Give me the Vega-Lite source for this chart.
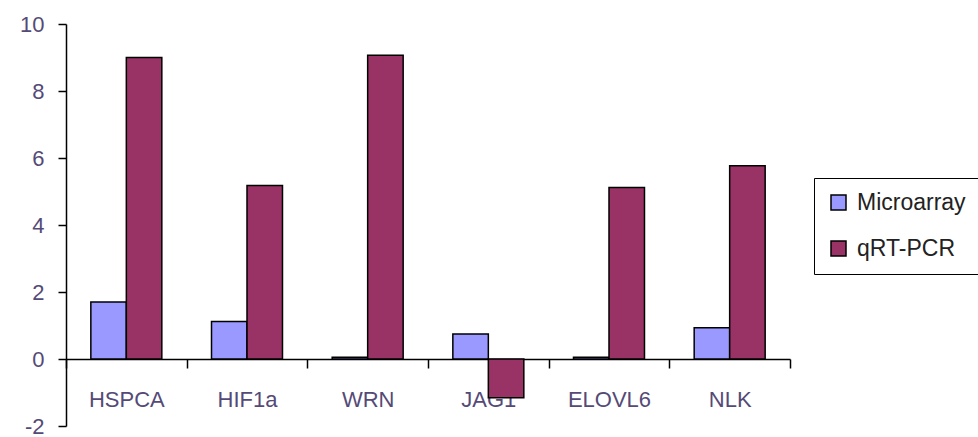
{
  "$schema": "https://vega.github.io/schema/vega-lite/v6.json",
  "width": 724,
  "height": 402,
  "autosize": {"type": "none"},
  "padding": {"left": 66, "top": 24, "right": 188, "bottom": 11},
  "background": "white",
  "config": {"view": {"stroke": null}, "font": "Liberation Sans"},
  "data": {
    "values": [
      {"gene": "HSPCA", "method": "Microarray", "value": 1.7},
      {"gene": "HSPCA", "method": "qRT-PCR", "value": 9.0},
      {"gene": "HIF1a", "method": "Microarray", "value": 1.12},
      {"gene": "HIF1a", "method": "qRT-PCR", "value": 5.18},
      {"gene": "WRN", "method": "Microarray", "value": 0.05},
      {"gene": "WRN", "method": "qRT-PCR", "value": 9.07},
      {"gene": "JAG1", "method": "Microarray", "value": 0.75},
      {"gene": "JAG1", "method": "qRT-PCR", "value": -1.16},
      {"gene": "ELOVL6", "method": "Microarray", "value": 0.05},
      {"gene": "ELOVL6", "method": "qRT-PCR", "value": 5.12},
      {"gene": "NLK", "method": "Microarray", "value": 0.93},
      {"gene": "NLK", "method": "qRT-PCR", "value": 5.77}
    ]
  },
  "mark": {"type": "bar", "stroke": "black", "strokeWidth": 1.5},
  "encoding": {
    "x": {
      "field": "gene",
      "type": "nominal",
      "sort": null,
      "scale": {"paddingInner": 0, "paddingOuter": 0},
      "axis": {
        "title": null,
        "orient": "bottom",
        "offset": -67,
        "domainColor": "black",
        "domainWidth": 1.5,
        "tickColor": "black",
        "tickWidth": 1.5,
        "tickSize": 9,
        "tickBand": "extent",
        "labelAngle": 0,
        "labelPadding": 21,
        "labelFontSize": 22,
        "labelColor": "#554a77",
        "labelFont": "Liberation Sans"
      }
    },
    "xOffset": {
      "field": "method",
      "type": "nominal",
      "scale": {"paddingInner": 0, "paddingOuter": 0.7}
    },
    "y": {
      "field": "value",
      "type": "quantitative",
      "scale": {"domain": [-2, 10], "nice": false, "zero": false},
      "axis": {
        "title": null,
        "values": [-2, 0, 2, 4, 6, 8, 10],
        "labelExpr": "'' + datum.value",
        "grid": false,
        "domainColor": "black",
        "domainWidth": 1.5,
        "tickColor": "black",
        "tickWidth": 1.5,
        "tickSize": 8,
        "labelPadding": 14,
        "labelFontSize": 22,
        "labelColor": "#554a77",
        "labelFont": "Liberation Sans"
      }
    },
    "color": {
      "field": "method",
      "type": "nominal",
      "scale": {"domain": ["Microarray", "qRT-PCR"], "range": ["#9999FF", "#993366"]},
      "legend": {
        "title": null,
        "orient": "none",
        "legendX": 748,
        "legendY": 154,
        "strokeColor": "black",
        "padding": 13,
        "symbolType": "square",
        "symbolSize": 225,
        "symbolStrokeColor": "black",
        "symbolStrokeWidth": 1.5,
        "symbolOpacity": 1,
        "rowPadding": 22,
        "labelFontSize": 23,
        "labelColor": "#222222",
        "labelFont": "Liberation Sans",
        "labelOffset": 7
      }
    }
  }
}
